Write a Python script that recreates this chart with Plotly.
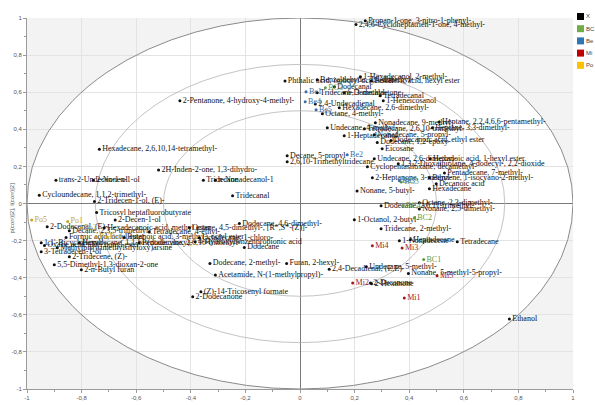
import math
import plotly.graph_objects as go

# ---------------- data ----------------
compound_names = [
    "2,4,6-Cycloheptatrien-1-one, 4-methyl-", "Propan-1-one, 3-nitro-1-phenyl-",
    "Phthalic acid, isobutyl octyl ester", "1-Hexadecanol, 2-methyl-", "Isovaleric acid, hexyl ester",
    "Benzaldehyde, 2,4-dimethyl-", "Dodecanal", "Tridecane, 3-methyl-", "δ-Dodecalactone",
    "Tetradecanal", "1-Heneicosanol", "2,4-Undecadienal", "Hexadecane, 2,6-dimethyl-",
    "Octane, 4-methyl-", "Heptane, 2,2,4,6,6-pentamethyl-", "Nonadecane, 9-methyl-",
    "Undecane, 4-methyl-", "Tetradecane, 2,6,10-trimethyl-", "Heptane, 3,3-dimethyl-",
    "1-Heptadecanol", "Nonadecane, 5-propyl-", "Dodecane, 1,2-epoxy-", "Dodecanoic acid, ethyl ester",
    "Eicosane", "Decane, 5-propyl-", "2,6,10-Trimethyltridecane", "Undecane, 2,6-dimethyl-",
    "Hexanoic acid, 1-hexyl ester", "Cyclopentasiloxane, decamethyl-",
    "1,3,2-Dioxathiolane, 4-dodecyl-, 2,2-dioxide", "Pentadecane, 7-methyl-",
    "2-Heptanone, 3-methyl-", "Benzene, 1-isocyano-2-methyl-", "Decanoic acid", "Hexadecane",
    "Nonane, 5-butyl-", "Dodecane, 2,6,11-trimethyl-", "Octane, 2,3-dimethyl-",
    "Nonane, 2,5-dimethyl-", "1-Octanol, 2-butyl-", "Tridecane, 2-methyl-", "1-Nonadecene",
    "Heptadecane", "Tetradecane", "Dodecane, 2-methyl-", "Furan, 2-hexyl-",
    "2,4-Decadienal, (E,E)-", "Undecane, 5-methyl-", "Nonane, 5-methyl-5-propyl-",
    "Acetamide, N-(1-methylpropyl)-", "2-Decanone", "2-Hexanone", "Ethanol",
    "(Z)-14-Tricosenyl formate", "2-Dodecanone", "2-Pentanone, 4-hydroxy-4-methyl-",
    "Hexadecane, 2,6,10,14-tetramethyl-", "2H-Inden-2-one, 1,3-dihydro-",
    "trans-2-Undecen-1-ol", "2-Nonen-1-ol", "Tridecane", "n-Nonadecanol-1", "Tridecanal",
    "Cycloundecane, 1,1,2-trimethyl-", "2-Tridecen-1-ol, (E)-", "Tricosyl heptafluorobutyrate",
    "2-Decen-1-ol", "2-Dodecenal, (E)-", "Decane, 2,3,5-trimethyl-",
    "Hexadecanoic acid, methyl ester", "Octane, 4,5-dimethyl-, [R*,S*-(Z)]-",
    "Formic acid, octyl ester", "Butanoic acid, 3-methyl-, octyl ester", "Octadecane, 1-chloro-",
    "1,1'-Bicyclohexyl", "Hexadecane, 1,1-bis(dodecyloxy)-", "Pentadecane, 2,6,10-trimethyl-",
    "4-Hydroxybenzenpropionic acid", "Methylbis(trimethylsilyloxy)arsine",
    "Oxalic acid, allyl nonyl ester", "3-Tetradecen-1-ol", "2-Tridecene, (Z)-",
    "5,5-Dimethyl-1,3-dioxan-2-one", "2-n-Butyl furan", "Dodecane, 4,6-dimethyl-", "Dodecane",
    "Tetradecane, 4-ethyl-",
]
compound_x = [
    0.205, 0.239,
    -0.055, 0.221, 0.261,
    0.063, 0.126, 0.063, 0.162,
    0.294, 0.305, 0.056, 0.144,
    0.082, 0.510, 0.276,
    0.100, 0.236, 0.485,
    0.162, 0.272, 0.283, 0.333,
    0.301, -0.047, -0.047, 0.272,
    0.477, 0.247,
    0.360, 0.529,
    0.265, 0.474, 0.499, 0.474,
    0.209, 0.297, 0.437,
    0.437, 0.199, 0.297, 0.364,
    0.404, 0.576, -0.330, -0.049,
    0.107, 0.243, 0.397,
    -0.310, 0.258, 0.262, 0.767,
    -0.363, -0.393, -0.440,
    -0.735, -0.518,
    -0.894, -0.757, -0.354, -0.310, -0.247,
    -0.955, -0.753, -0.745,
    -0.677, -0.926, -0.845,
    -0.717, -0.405,
    -0.857, -0.644, -0.369,
    -0.948, -0.808, -0.589,
    -0.384, -0.889,
    -0.936, -0.948, -0.845,
    -0.900, -0.801, -0.222, -0.204,
    -0.552,
]
compound_y = [
    0.965, 0.985,
    0.661, 0.683, 0.661,
    0.667, 0.629, 0.597, 0.597,
    0.581, 0.554, 0.537, 0.516,
    0.484, 0.440, 0.435,
    0.408, 0.403, 0.408,
    0.365, 0.370, 0.329, 0.340,
    0.295, 0.257, 0.225, 0.241,
    0.241, 0.198,
    0.214, 0.165,
    0.139, 0.139, 0.106, 0.079,
    0.068, -0.012, 0.004,
    -0.029, -0.088, -0.136, -0.201,
    -0.196, -0.206, -0.323, -0.323,
    -0.354, -0.341, -0.377,
    -0.386, -0.428, -0.433, -0.623,
    -0.476, -0.503, 0.554,
    0.293, 0.180,
    0.126, 0.126, 0.126, 0.126, 0.042,
    0.045, 0.011, -0.049,
    -0.089, -0.126, -0.147,
    -0.131, -0.131,
    -0.183, -0.183, -0.185,
    -0.212, -0.212, -0.212,
    -0.206, -0.239,
    -0.226, -0.260, -0.287,
    -0.330, -0.357, -0.108, -0.237,
    -0.153,
]

sample_names = ["Be1", "Be4", "Be5", "Be2", "Be3",
                "BC3", "BC4", "BC5", "BC2", "BC1",
                "Mi4", "Mi3", "Mi5", "Mi2", "Mi1",
                "Po5", "Po1", "Po2", "Po3", "Po4"]
sample_x = [0.022, 0.019, 0.059, 0.173, 0.364,
            0.093, 0.378, 0.371, 0.419, 0.453,
            0.265, 0.374, 0.502, 0.193, 0.382,
            -0.983, -0.851, -0.801, -0.746, -0.706]
sample_y = [0.602, 0.548, 0.505, 0.263, 0.122,
            0.624, -0.012, 0.116, -0.077, -0.302,
            -0.228, -0.240, -0.390, -0.429, -0.510,
            -0.089, -0.097, -0.131, -0.180, -0.180]
sample_group = ["Be"] * 5 + ["BC"] * 5 + ["Mi"] * 5 + ["Po"] * 5

legend_names = ["X", "BC", "Be", "Mi", "Po"]
legend_colors = ["#000000", "#70ad47", "#2e75b6", "#c00000", "#ffc000"]
group_text_colors = {"BC": "#5f9a45", "Be": "#3a6ea8", "Mi": "#a31818", "Po": "#c9a227"}

tick_vals = [-1, -0.8, -0.6, -0.4, -0.2, 0, 0.2, 0.4, 0.6, 0.8, 1]
tick_labels = ["-1", "-0,8", "-0,6", "-0,4", "-0,2", "0", "0,2", "0,4", "0,6", "0,8", "1"]
minor_vals = [-0.9, -0.7, -0.5, -0.3, -0.1, 0.1, 0.3, 0.5, 0.7, 0.9]
circle_radii = [1.0, 0.75, 0.5]

# ---------------- figure ----------------
fig = go.Figure()

label_font = "Liberation Serif, Times New Roman, serif"

fig.add_trace(go.Scatter(
    x=compound_x, y=compound_y, text=compound_names, mode="markers+text",
    textposition="middle right", cliponaxis=False,
    marker=dict(size=3, color="#111111"),
    textfont=dict(family=label_font, size=8, color="#111111"),
    showlegend=False, hoverinfo="text"))

for g in ["BC", "Be", "Mi", "Po"]:
    idx = [i for i, s in enumerate(sample_group) if s == g]
    fig.add_trace(go.Scatter(
        x=[sample_x[i] for i in idx], y=[sample_y[i] for i in idx],
        text=[sample_names[i] for i in idx], mode="markers+text",
        textposition="middle right", cliponaxis=False,
        marker=dict(size=3, color=group_text_colors[g]),
        textfont=dict(family=label_font, size=8, color=group_text_colors[g]),
        showlegend=False, hoverinfo="text"))

# shaded region outside unit circle
n = 180
pts = [(math.cos(2 * math.pi * k / n), math.sin(2 * math.pi * k / n)) for k in range(n)]
path = "M -1 -1 L 1 -1 L 1 1 L -1 1 Z M " + " L ".join(f"{px:.4f} {py:.4f}" for px, py in pts) + " Z"
shapes = [dict(type="path", path=path, xref="x", yref="y", fillcolor="#f3f3f3",
               fillrule="evenodd", line=dict(width=0), layer="below")]
for r in circle_radii:
    shapes.append(dict(type="circle", xref="x", yref="y", x0=-r, x1=r, y0=-r, y1=r,
                       line=dict(color="#8a8a8a" if r == 1.0 else "#b4b4b4",
                                 width=1 if r == 1.0 else 0.8),
                       layer="between"))

# manual legend
L, R, T, B = 27, 22, 18, 16
W, H = 595, 405
pw, ph = W - L - R, H - T - B
annotations = []
for i, (nm, col) in enumerate(zip(legend_names, legend_colors)):
    cy = 16.5 + 12.2 * i
    shapes.append(dict(type="rect", xref="paper", yref="paper",
                       x0=(577 - L) / pw, x1=(584 - L) / pw,
                       y0=(H - B - (cy + 3.5)) / ph, y1=(H - B - (cy - 3.5)) / ph,
                       fillcolor=col, line=dict(width=0)))
    annotations.append(dict(xref="paper", yref="paper", x=(585 - L) / pw,
                            y=(H - B - cy) / ph, text=nm, showarrow=False,
                            xanchor="left", yanchor="middle", borderpad=0,
                            font=dict(family="Liberation Sans, Arial", size=6, color="#444444")))

annotations.append(dict(xref="paper", yref="paper", x=(11.5 - L) / pw, y=(H - B - 208) / ph,
                        text="p(corr)[2], t(corr)[2]", textangle=-90, showarrow=False,
                        xanchor="center", yanchor="middle",
                        font=dict(family="Liberation Sans, Arial", size=6, color="#555555")))

axis_common = dict(
    range=[-1, 1], tickvals=tick_vals, ticktext=tick_labels,
    showgrid=True, gridcolor="#e3e3e3", gridwidth=1,
    zeroline=True, zerolinecolor="#7a7a7a", zerolinewidth=1,
    showline=True, linecolor="#9a9a9a", linewidth=1,
    ticks="outside", ticklen=3, tickcolor="#9a9a9a",
    tickfont=dict(family="Liberation Sans, Arial", size=6, color="#555555"),
    minor=dict(tickvals=minor_vals, ticks="outside", ticklen=2, tickcolor="#9a9a9a", showgrid=False),
    fixedrange=True,
)

fig.update_layout(
    width=W, height=H,
    margin=dict(l=L, r=R, t=T, b=B, autoexpand=False),
    paper_bgcolor="white", plot_bgcolor="white",
    xaxis=dict(**axis_common),
    yaxis=dict(**axis_common),
    shapes=shapes, annotations=annotations,
    showlegend=False,
)

fig.write_html("out.html", config={"displayModeBar": False},
               post_script="document.body.style.margin='0';document.body.style.overflow='hidden';")
